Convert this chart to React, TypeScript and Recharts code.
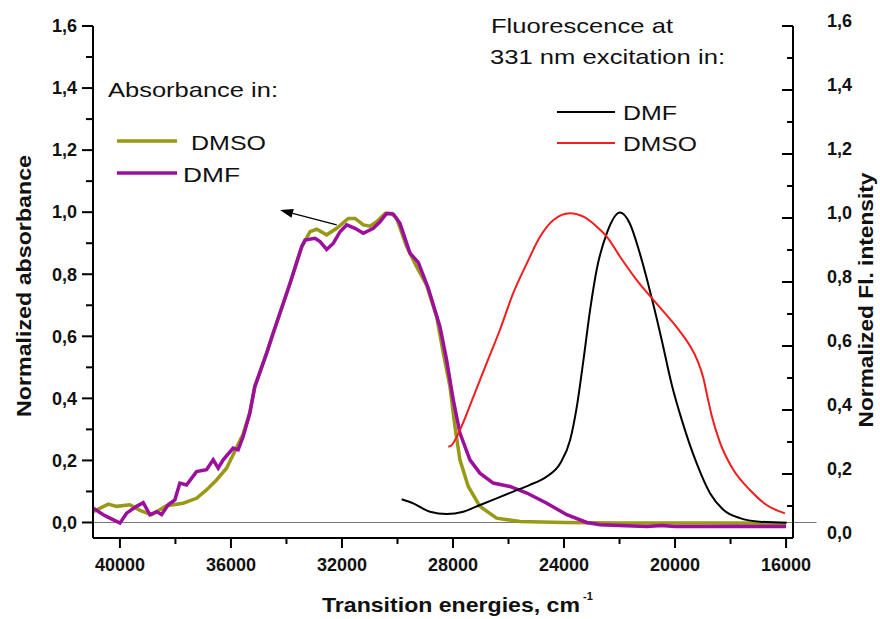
import React from 'react';
import { ComposedChart, Line, XAxis, YAxis, ReferenceLine, Customized } from 'recharts';

const FONT = '"Liberation Sans", Arial, Helvetica, sans-serif';

// colours
const OLIVE = '#999915';
const PURPLE = '#9c0f9c';
const RED = '#f41c1c';
const BLACK = '#000000';

// Absorbance in DMSO (left axis)
const absDmsoX = [
  40962, 40420, 40120, 39640, 39280, 38860, 38320, 37720, 37240, 36880, 36520, 36160, 35920,
  35560, 35320, 35140, 34710, 34480, 33870, 33450, 33150, 32910, 32550, 32190, 31770, 31530,
  31230, 30990, 30750, 30450, 30210, 30030, 29670, 29430, 29310, 28950, 28590, 28350, 28110,
  27930, 27750, 27450, 27030, 26430, 25590, 24000, 22000, 20000, 18000, 16000,
];
const absDmsoY = [
  0.035, 0.059, 0.052, 0.057, 0.039, 0.025, 0.054, 0.062, 0.078, 0.105, 0.137, 0.175, 0.218,
  0.285, 0.355, 0.438, 0.548, 0.61, 0.771, 0.889, 0.937, 0.945, 0.927, 0.948, 0.98, 0.98,
  0.959, 0.955, 0.969, 0.996, 0.996, 0.98, 0.889, 0.846, 0.824, 0.765, 0.663, 0.546, 0.438,
  0.309, 0.202, 0.116, 0.052, 0.014, 0.003, 0.0, -0.002, -0.002, -0.002, -0.003,
];

// Absorbance in DMF (left axis)
const absDmfX = [
  40960, 40600, 40360, 40000, 39760, 39400, 39160, 38920, 38680, 38500, 38260, 38020, 37840,
  37600, 37240, 36880, 36640, 36460, 36280, 35920, 35740, 35560, 35320, 35140, 34710, 34480,
  33870, 33450, 33330, 32970, 32790, 32550, 32310, 32070, 31830, 31530, 31230, 30870, 30630,
  30390, 30150, 29910, 29550, 29250, 28890, 28470, 28230, 27990, 27750, 27390, 27030, 26550,
  25950, 25340, 24620, 23900, 23180, 22700, 22000, 21000, 20500, 20000, 19000, 18000, 17000, 16000,
];
const absDmfY = [
  0.046, 0.025, 0.014, -0.002, 0.03, 0.052, 0.064, 0.025, 0.035, 0.025, 0.057, 0.073, 0.127,
  0.121, 0.164, 0.17, 0.202, 0.175, 0.202, 0.24, 0.234, 0.277, 0.352, 0.438, 0.546, 0.61,
  0.771, 0.889, 0.91, 0.916, 0.905, 0.88, 0.9, 0.937, 0.959, 0.948, 0.932, 0.948, 0.969,
  0.996, 0.994, 0.964, 0.868, 0.838, 0.755, 0.631, 0.524, 0.395, 0.288, 0.202, 0.159, 0.127,
  0.116, 0.095, 0.062, 0.025, 0.0, -0.007, -0.01, -0.013, -0.01, -0.013, -0.013, -0.012, -0.013, -0.013,
];

// Fluorescence in DMF (right axis)
const flDmfX = [
  29850, 29430, 28830, 28230, 27630, 27030, 26430, 25830, 25230, 24620, 24140, 23780, 23540,
  23300, 23060, 22820, 22460, 21980, 21630, 21260, 20840, 20480, 20120, 19760, 19220, 18740,
  18260, 17660, 16940, 15980,
];
const flDmfY = [
  0.121, 0.108, 0.082, 0.075, 0.082, 0.103, 0.124, 0.145, 0.166, 0.192, 0.233, 0.306, 0.41,
  0.556, 0.713, 0.84, 0.952, 1.017, 0.983, 0.887, 0.75, 0.619, 0.48, 0.37, 0.233, 0.14,
  0.088, 0.062, 0.051, 0.048,
];

// Fluorescence in DMSO (right axis)
const flDmsoX = [
  28170, 28050, 27750, 27270, 26790, 26310, 25830, 25340, 24860, 24380, 23780, 23300, 22820,
  22460, 21980, 21380, 20780, 20180, 19820, 19460, 19200, 18980, 18830, 18680, 18380, 17900,
  17300, 16700, 16040,
];
const flDmsoY = [
  0.285, 0.29, 0.3375, 0.44, 0.546, 0.65, 0.765, 0.858, 0.942, 0.994, 1.015, 1.004, 0.973,
  0.942, 0.879, 0.806, 0.744, 0.684, 0.645, 0.6, 0.556, 0.5, 0.44, 0.383, 0.298, 0.213,
  0.15, 0.103, 0.077,
];

const xTicks = [40000, 38000, 36000, 34000, 32000, 30000, 28000, 26000, 24000, 22000, 20000, 18000, 16000];
const yTicks = [0, 0.1, 0.2, 0.3, 0.4, 0.5, 0.6, 0.7, 0.8, 0.9, 1.0, 1.1, 1.2, 1.3, 1.4, 1.5, 1.6];

const absLegend = [
  { name: 'DMSO', color: OLIVE },
  { name: 'DMF', color: PURPLE },
];
const flLegend = [
  { name: 'DMF', color: BLACK },
  { name: 'DMSO', color: RED },
];

const toPoints = (xs: number[], ys: number[]) => xs.map((x, i) => ({ x, y: ys[i] }));

const absDmso = toPoints(absDmsoX, absDmsoY);
const absDmf = toPoints(absDmfX, absDmfY);
const flDmf = toPoints(flDmfX, flDmfY);
const flDmso = toPoints(flDmsoX, flDmsoY);

const fmt = (v: number) => v.toFixed(1).replace('.', ',');
const isMajorY = (v: number) => Math.round(v * 10) % 2 === 0;

const XTick = (props: any) => {
  const { x, y, payload } = props;
  const major = payload.value % 4000 === 0;
  return (
    <g>
      <line x1={x} y1={y} x2={x} y2={y + (major ? 10 : 6)} stroke="#000" strokeWidth={2} />
      {major && (
        <text x={x} y={y + 33} textAnchor="middle" fontSize={18} fontWeight="bold" fontFamily={FONT} fill="#111">
          {payload.value}
        </text>
      )}
    </g>
  );
};

const LeftTick = (props: any) => {
  const { x, y, payload } = props;
  const major = isMajorY(payload.value);
  return (
    <g>
      <line x1={x - (major ? 11 : 7)} y1={y} x2={x} y2={y} stroke="#000" strokeWidth={2} />
      {major && (
        <text x={x - 16} y={y} dy="0.35em" textAnchor="end" fontSize={18} fontWeight="bold" fontFamily={FONT} fill="#111">
          {fmt(payload.value)}
        </text>
      )}
    </g>
  );
};

const RightTick = (props: any) => {
  const { x, y, payload } = props;
  const major = isMajorY(payload.value);
  return (
    <g>
      <line x1={x - (major ? 11 : 6)} y1={y} x2={x} y2={y} stroke="#000" strokeWidth={2} />
      {major && (
        <text x={x + 34} y={y - 5} dy="0.35em" textAnchor="start" fontSize={18} fontWeight="bold" fontFamily={FONT} fill="#111">
          {fmt(payload.value)}
        </text>
      )}
    </g>
  );
};

const Arrow = (p: any) => {
  const { x1, y1, x2, y2 } = p;
  const ang = Math.atan2(y2 - y1, x2 - x1);
  const len = 13;
  const half = 4.5;
  const bx = x2 - len * Math.cos(ang);
  const by = y2 - len * Math.sin(ang);
  const px = -Math.sin(ang) * half;
  const py = Math.cos(ang) * half;
  return (
    <g>
      <line x1={x1} y1={y1} x2={bx} y2={by} stroke="#000" strokeWidth={1.2} />
      <polygon points={`${x2},${y2} ${bx + px},${by + py} ${bx - px},${by - py}`} fill="#000" />
    </g>
  );
};

// titles and the two hand-made legends
const Annotations = () => {
  const txt = { fontFamily: FONT, fill: '#111' } as const;
  return (
    <g>
      <text x={108} y={97} fontSize={21} textLength={170} lengthAdjust="spacingAndGlyphs" {...txt}>
        Absorbance in:
      </text>
      {absLegend.map((d, i) => (
        <g key={d.name}>
          <line x1={117} x2={177} y1={141 + i * 32} y2={141 + i * 32} stroke={d.color} strokeWidth={3.5} />
          <text
            x={i === 0 ? 191 : 183}
            y={150 + i * 32}
            fontSize={21}
            textLength={d.name.length * 15 + (d.name.length === 4 ? 15 : 12)}
            lengthAdjust="spacingAndGlyphs"
            {...txt}
          >
            {d.name}
          </text>
        </g>
      ))}

      <text x={491} y={33} fontSize={21} textLength={182} lengthAdjust="spacingAndGlyphs" {...txt}>
        Fluorescence at
      </text>
      <text x={490} y={64} fontSize={21} textLength={235} lengthAdjust="spacingAndGlyphs" {...txt}>
        331 nm excitation in:
      </text>
      {flLegend.map((d, i) => (
        <g key={d.name}>
          <line x1={557} x2={615} y1={112 + i * 31} y2={112 + i * 31} stroke={d.color} strokeWidth={2} />
          <text
            x={623}
            y={120 + i * 31}
            fontSize={21}
            textLength={d.name === 'DMF' ? 54 : 74}
            lengthAdjust="spacingAndGlyphs"
            {...txt}
          >
            {d.name}
          </text>
        </g>
      ))}

      <text
        transform="translate(31,286) rotate(-90)"
        textAnchor="middle"
        fontSize={21}
        fontWeight="bold"
        textLength={262}
        lengthAdjust="spacingAndGlyphs"
        {...txt}
      >
        Normalized absorbance
      </text>
      <text
        transform="translate(873,300) rotate(-90)"
        textAnchor="middle"
        fontSize={20}
        fontWeight="bold"
        textLength={255}
        lengthAdjust="spacingAndGlyphs"
        {...txt}
      >
        Normalized Fl. intensity
      </text>
      <text x={322} y={612} fontSize={21} fontWeight="bold" textLength={258} lengthAdjust="spacingAndGlyphs" {...txt}>
        Transition energies, cm
      </text>
      <text x={583} y={600} fontSize={11} fontWeight="bold" {...txt}>
        -1
      </text>
    </g>
  );
};

export default function App() {
  return (
    <div style={{ position: 'absolute', left: 0, top: 0, width: 880, height: 619, background: '#fff' }}>
      <ComposedChart width={880} height={619} margin={{ top: 26, right: 0, bottom: 0, left: 0 }}>
        <XAxis
          dataKey="x"
          type="number"
          domain={[15750, 40970]}
          reversed
          allowDataOverflow
          ticks={xTicks}
          interval={0}
          height={81}
          tickSize={0}
          tickMargin={0}
          tickLine={false}
          tick={<XTick />}
          axisLine={{ stroke: '#000', strokeWidth: 2 }}
        />
        <YAxis
          yAxisId="left"
          orientation="left"
          type="number"
          domain={[-0.05, 1.6]}
          allowDataOverflow
          ticks={yTicks}
          interval={0}
          width={93}
          tickSize={0}
          tickMargin={0}
          tickLine={false}
          tick={<LeftTick />}
          axisLine={{ stroke: '#000', strokeWidth: 2 }}
        />
        <YAxis
          yAxisId="right"
          orientation="right"
          type="number"
          domain={[0, 1.6]}
          allowDataOverflow
          ticks={yTicks}
          interval={0}
          width={87}
          tickSize={0}
          tickMargin={0}
          tickLine={false}
          tick={<RightTick />}
          axisLine={{ stroke: '#000', strokeWidth: 2 }}
        />

        <ReferenceLine
          yAxisId="left"
          segment={[{ x: 40970, y: 0 }, { x: 14900, y: 0 }]}
          ifOverflow="visible"
          stroke="#777"
          strokeWidth={1}
        />

        <Line yAxisId="left" data={absDmso} dataKey="y" type="linear" stroke={OLIVE} strokeWidth={3.5} dot={false} isAnimationActive={false} />
        <Line yAxisId="left" data={absDmf} dataKey="y" type="linear" stroke={PURPLE} strokeWidth={3.5} dot={false} isAnimationActive={false} />
        <Line yAxisId="right" data={flDmf} dataKey="y" type="monotone" stroke={BLACK} strokeWidth={2} dot={false} isAnimationActive={false} />
        <Line yAxisId="right" data={flDmso} dataKey="y" type="monotone" stroke={RED} strokeWidth={2} dot={false} isAnimationActive={false} />

        <ReferenceLine
          yAxisId="left"
          segment={[{ x: 32190, y: 0.959 }, { x: 34230, y: 1.007 }]}
          shape={Arrow}
        />

        <Customized component={Annotations} />
      </ComposedChart>
    </div>
  );
}
